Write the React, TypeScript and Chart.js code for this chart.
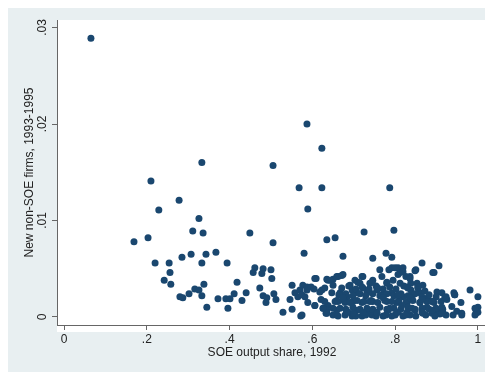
import React, { useEffect, useRef } from "react";
import { Chart, registerables } from "chart.js";

Chart.register(...registerables);

// Scattered provinces/cities
const soeShare: number[] = [
  0.065, 0.21, 0.333, 0.587, 0.623, 0.505, 0.568, 0.623, 0.787, 0.589,
  0.635, 0.655, 0.725, 0.797, 0.449, 0.505, 0.58, 0.674, 0.746, 0.778,
  0.792, 0.865, 0.906, 0.894, 0.85, 0.981, 1.0,
  0.278, 0.229, 0.326, 0.203, 0.169, 0.311, 0.336, 0.285, 0.307, 0.343,
  0.367, 0.22, 0.254, 0.333, 0.394, 0.256, 0.242, 0.258, 0.418, 0.338,
  0.316, 0.326, 0.302, 0.333, 0.28, 0.287, 0.372, 0.391, 0.401, 0.411,
  0.43, 0.44, 0.345, 0.396,
  0.461, 0.457, 0.481, 0.478, 0.5, 0.502, 0.473, 0.481, 0.49, 0.488,
  0.507, 0.512, 0.529, 0.551, 0.572, 0.546, 0.551, 0.558, 0.57, 0.565,
  0.577, 0.582, 0.587, 0.589, 0.597, 0.604, 0.609, 0.606, 0.623, 0.621,
  0.626, 0.635, 0.633, 0.638,
  0.763, 0.785, 0.807, 0.812, 0.722, 0.674, 0.662, 0.638, 0.65, 0.691,
  0.715, 0.739, 0.756, 0.78, 0.795, 0.812, 0.829, 0.647, 0.667, 0.684,
  0.708, 0.732, 0.768, 0.792, 0.819, 0.63, 0.655, 0.679, 0.698, 0.72,
  0.746, 0.78, 0.804, 0.829, 0.635, 0.659, 0.686, 0.708, 0.732, 0.756,
  0.783, 0.807, 0.829, 0.65, 0.696, 0.72, 0.744, 0.771, 0.8, 0.819,
  0.696, 0.722, 0.746, 0.703, 0.768,
  0.819, 0.836, 0.853, 0.867, 0.901, 0.913, 0.942, 0.925, 0.959, 0.937,
  0.891, 0.877, 0.901, 0.915, 0.949, 0.961, 1.0, 1.0, 0.995, 0.843,
  0.86, 0.86, 0.879, 0.848, 0.867, 0.889, 0.908, 0.836, 0.923, 0.944,
  0.838, 0.826, 0.792,
];

const newFirms: number[] = [
  0.0289, 0.0141, 0.016, 0.02, 0.0175, 0.0157, 0.0134, 0.0134, 0.0134, 0.0112,
  0.008, 0.0082, 0.0088, 0.009, 0.0087, 0.0077, 0.0066, 0.0063, 0.0061, 0.0066,
  0.0062, 0.0056, 0.0053, 0.0046, 0.0049, 0.0028, 0.0021,
  0.0121, 0.0111, 0.0102, 0.0082, 0.0078, 0.0089, 0.0087, 0.0062, 0.0065, 0.0065,
  0.0067, 0.0056, 0.0056, 0.0056, 0.0056, 0.0046, 0.0038, 0.0034, 0.0036, 0.0034,
  0.0029, 0.0028, 0.0024, 0.0022, 0.0021, 0.002, 0.0019, 0.0019, 0.0019, 0.0024,
  0.0017, 0.0025, 0.001, 0.0009,
  0.0051, 0.0046, 0.005, 0.0045, 0.0049, 0.004, 0.003, 0.0022, 0.002, 0.0015,
  0.0024, 0.0018, 0.0005, 0.0008, 0.0001, 0.0018, 0.0033, 0.0025, 0.0028, 0.0021,
  0.0033, 0.0021, 0.0028, 0.0015, 0.0031, 0.0029, 0.004, 0.0012, 0.0028, 0.0018,
  0.0009, 0.0039, 0.0004, 0.0012,
  0.0049, 0.0049, 0.0051, 0.0046, 0.0042, 0.0044, 0.0042, 0.0038, 0.0039, 0.0033,
  0.0035, 0.0035, 0.0028, 0.0035, 0.0038, 0.0035, 0.0031, 0.0025, 0.0025, 0.0021,
  0.0025, 0.0025, 0.0023, 0.0025, 0.0021, 0.0016, 0.0016, 0.0015, 0.0016, 0.0015,
  0.0016, 0.0016, 0.0015, 0.0015, 0.0007, 0.0007, 0.0005, 0.0007, 0.0005, 0.0005,
  0.0007, 0.0005, 0.0005, 0.0002, 0.0001, 0.0001, 0.0002, 0.0001, 0.0002, 0.0001,
  0.0028, 0.003, 0.0038, 0.0038, 0.0042,
  0.0051, 0.0042, 0.0035, 0.0033, 0.0026, 0.0025, 0.0025, 0.0018, 0.0015, 0.0011,
  0.0016, 0.001, 0.0007, 0.0005, 0.0006, 0.0004, 0.001, 0.0005, 0.0004, 0.0023,
  0.0025, 0.0015, 0.002, 0.0007, 0.0004, 0.0004, 0.0003, 0.0002, 0.0021, 0.0023,
  0.0035, 0.0042, 0.0051,
];

// Dense cluster near the x axis (high SOE share, few new firms)
const clusterShare: number[] = [
  0.671, 0.688, 0.705, 0.72, 0.737, 0.754, 0.771, 0.787, 0.802, 0.821, 0.838, 0.855, 0.872,
  0.664, 0.681, 0.698, 0.715, 0.729, 0.746, 0.763, 0.78, 0.797, 0.814, 0.831, 0.848, 0.865, 0.882, 0.899,
  0.659, 0.676, 0.691, 0.708, 0.725, 0.742, 0.758, 0.775, 0.792, 0.809, 0.826, 0.843, 0.86, 0.877, 0.894, 0.911,
  0.667, 0.681, 0.698, 0.715, 0.732, 0.746, 0.763, 0.78, 0.797, 0.814, 0.831, 0.848, 0.865, 0.882, 0.899, 0.915,
  0.662, 0.679, 0.705, 0.729, 0.754, 0.778, 0.792, 0.826, 0.85, 0.874, 0.896, 0.923,
  0.606, 0.643, 0.659, 0.671, 0.65, 0.63, 0.618, 0.587, 0.575, 0.606,
  0.626, 0.635, 0.65, 0.662, 0.674, 0.71, 0.72, 0.744, 0.758, 0.78,
  0.807, 0.698, 0.684, 0.722, 0.739, 0.771, 0.787, 0.804, 0.756, 0.575,
  0.8, 0.819, 0.836, 0.848, 0.891, 0.831, 0.855, 0.92, 0.944, 0.913,
  0.993, 0.993, 0.961, 0.94, 0.913, 0.889, 0.865, 0.841, 0.816, 0.807,
  0.836, 0.865, 0.889,
];

const clusterFirms: number[] = [
  0.003, 0.0032, 0.0029, 0.0031, 0.0029, 0.0032, 0.0029, 0.0031, 0.0029, 0.0032, 0.0028, 0.003, 0.0027,
  0.0023, 0.0024, 0.0022, 0.0024, 0.0022, 0.0024, 0.0022, 0.0024, 0.0022, 0.0024, 0.0022, 0.0024, 0.0021, 0.0023, 0.0021,
  0.0017, 0.0017, 0.0015, 0.0017, 0.0016, 0.0017, 0.0015, 0.0017, 0.0016, 0.0017, 0.0015, 0.0017, 0.0015, 0.0016, 0.0015, 0.0016,
  0.0009, 0.0008, 0.001, 0.0008, 0.0009, 0.0008, 0.001, 0.0008, 0.0009, 0.0008, 0.001, 0.0008, 0.0009, 0.0008, 0.0009, 0.0008,
  0.0001, 0.0002, 0.0001, 0.0002, 0.0001, 0.0002, 0.0001, 0.0002, 0.0001, 0.0002, 0.0001, 0.0002,
  0.004, 0.0038, 0.0042, 0.0043, 0.0033, 0.003, 0.0026, 0.0031, 0.0023, 0.0012,
  0.0009, 0.0004, 0.0009, 0.0016, 0.002, 0.0036, 0.0042, 0.0036, 0.003, 0.0036,
  0.0044, 0.0004, 0.0005, 0.0005, 0.0016, 0.002, 0.0009, 0.0005, 0.0004, 0.0002,
  0.0051, 0.0047, 0.004, 0.0048, 0.0046, 0.003, 0.0031, 0.002, 0.0023, 0.001,
  0.0009, 0.0002, 0.0002, 0.0002, 0.0004, 0.0007, 0.0005, 0.0009, 0.0012, 0.0023,
  0.002, 0.0018, 0.0016,
];

const xTicks: number[] = [0, 0.2, 0.4, 0.6, 0.8, 1];
const yTicks: number[] = [0, 0.01, 0.02, 0.03];

const xTitle = "SOE output share, 1992";
const yTitle = "New non-SOE firms, 1993-1995";

const FONT = '"Liberation Sans", Arial, Helvetica, sans-serif';

function fmt(v: number): string {
  if (v === 0) return "0";
  if (v === 1) return "1";
  return String(+v.toFixed(2)).replace(/^0\./, ".");
}

const plotBg = {
  id: "plotBg",
  beforeDraw(chart: any) {
    const { ctx, chartArea } = chart;
    ctx.save();
    ctx.fillStyle = "#ffffff";
    ctx.fillRect(
      chartArea.left,
      chartArea.top,
      chartArea.right - chartArea.left,
      chartArea.bottom - chartArea.top + 7
    );
    ctx.restore();
  },
};

export default function App() {
  const ref = useRef<HTMLCanvasElement | null>(null);

  useEffect(() => {
    if (!ref.current) return;
    const xs = soeShare.concat(clusterShare);
    const ys = newFirms.concat(clusterFirms);
    const points = xs.map((x, i) => ({ x, y: ys[i] }));
    const chart = new Chart(ref.current, {
      type: "scatter",
      data: {
        datasets: [
          {
            data: points,
            backgroundColor: "#1a476f",
            borderColor: "#1a476f",
            borderWidth: 0,
            pointRadius: 3.5,
            pointHoverRadius: 3.5,
          },
        ],
      },
      options: {
        animation: false,
        responsive: false,
        maintainAspectRatio: false,
        layout: { padding: { top: 12, right: 6, left: 0, bottom: 0 } },
        plugins: {
          legend: { display: false },
          tooltip: { enabled: false },
        },
        scales: {
          x: {
            type: "linear",
            min: -0.017,
            max: 1.022,
            afterBuildTicks: (s: any) => {
              s.ticks = xTicks.map((v) => ({ value: v }));
            },
            afterFit: (s: any) => {
              s.height = 47;
            },
            ticks: {
              callback: (v: any) => fmt(Number(v)),
              font: { family: FONT, size: 12 },
              color: "#222",
              padding: 2,
              maxRotation: 0,
              autoSkip: false,
            },
            grid: {
              drawOnChartArea: false,
              drawTicks: true,
              tickLength: 5,
              color: "#666",
            },
            border: { display: true, color: "#666", width: 1 },
            title: {
              display: true,
              text: xTitle,
              font: { family: FONT, size: 12 },
              color: "#222",
              padding: { top: 0, bottom: 12 },
            },
          },
          y: {
            type: "linear",
            min: -0.00083,
            max: 0.03078,
            afterBuildTicks: (s: any) => {
              s.ticks = yTicks.map((v) => ({ value: v }));
            },
            afterFit: (s: any) => {
              s.width = 49;
            },
            ticks: {
              callback: (v: any) => fmt(Number(v)),
              font: { family: FONT, size: 12 },
              color: "#222",
              padding: 1,
              minRotation: 90,
              maxRotation: 90,
              crossAlign: "center",
              autoSkip: false,
            },
            grid: {
              drawOnChartArea: false,
              drawTicks: true,
              tickLength: 5,
              color: "#666",
            },
            border: { display: true, color: "#666", width: 1 },
            title: {
              display: true,
              text: yTitle,
              font: { family: FONT, size: 12 },
              color: "#222",
              padding: { top: 14, bottom: 0 },
            },
          },
        },
      } as any,
      plugins: [plotBg],
    });
    return () => chart.destroy();
  }, []);

  return (
    <div style={{ width: 485, height: 364, background: "#e8eff1" }}>
      <canvas ref={ref} width={485} height={364} style={{ display: "block" }} />
    </div>
  );
}
